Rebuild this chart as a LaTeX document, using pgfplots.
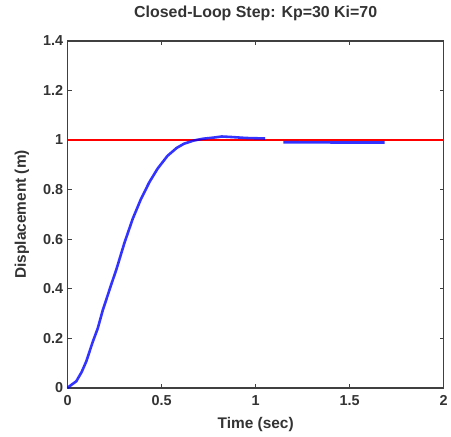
\documentclass[border=0pt]{standalone}
\usepackage{pgfplots}
\pgfplotsset{compat=1.18}
\usepackage{fontspec}
\setmainfont{Liberation Sans}
\begin{document}
\begin{tikzpicture}
\begin{axis}[
  name=ax,
  scale only axis,
  width=378pt, height=349pt,
  xmin=0, xmax=2, ymin=0, ymax=1.4,
  xtick={0,0.5,1,1.5,2},
  ytick={0,0.2,0.4,0.6,0.8,1,1.2,1.4},
  xticklabels={0,0.5,1,1.5,2},
  yticklabels={0,0.2,0.4,0.6,0.8,1,1.2,1.4},
  tick align=inside,
  major tick length=4pt,
  axis line style={line width=1.5pt, black!75},
  tick style={line width=1.2pt, black!75},
  ticklabel style={font=\fontsize{14.5}{16}\selectfont\bfseries, text=black!80},
  xticklabel style={yshift=-4pt},
  yticklabel style={xshift=-1pt},
  label style={font=\fontsize{15.5}{17}\selectfont\bfseries, text=black!80},
  title style={font=\fontsize{16}{18}\selectfont\bfseries, text=black!80,
    at={(axis description cs:0.5,1)}, anchor=center, yshift=22pt},
  title={Closed-Loop Step: Kp=30 Ki=70},
  xlabel={Time (sec)},
  ylabel={Displacement (m)},
  xlabel style={at={(axis description cs:0.5,0)}, anchor=center, yshift=-37pt},
  ylabel style={at={(axis description cs:0,0.5)}, anchor=center, yshift=46pt},
  unbounded coords=jump,
  clip=false,
]
\addplot[red, line width=1.5pt] coordinates {(0,1) (2,1)};
\addplot[blue, line width=2.6pt, opacity=0.8] coordinates {
(0,0) (0.01,0.007) (0.046,0.027) (0.075,0.065) (0.099,0.107) (0.134,0.187) (0.16,0.24)
(0.187,0.314) (0.231,0.415) (0.26,0.48) (0.284,0.54) (0.302,0.585)
(0.346,0.682) (0.39,0.762) (0.434,0.829) (0.478,0.884) (0.531,0.936)
(0.58,0.968) (0.619,0.985) (0.672,0.998) (0.72,1.005) (0.78,1.01) (0.82,1.014)
(0.87,1.012) (0.95,1.008) (1.05,1.006)
(1.1,nan)
(1.148,0.991) (1.4,0.99) (1.686,0.99)
};
\end{axis}
\useasboundingbox (ax.south west) ++(-68pt,-49pt) rectangle ++(451pt,439pt);
\end{tikzpicture}
\end{document}
